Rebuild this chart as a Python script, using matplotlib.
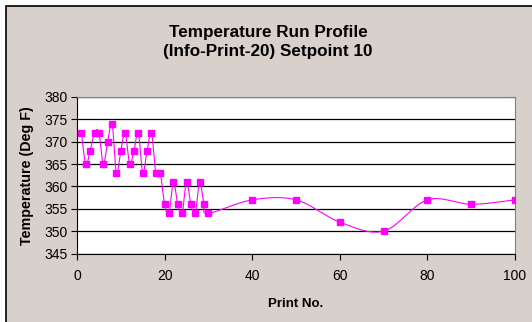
import numpy as np
import matplotlib
matplotlib.use("Agg")
import matplotlib.pyplot as plt

plt.rcParams['font.family'] = ['Liberation Sans', 'DejaVu Sans']

# data
print_no = [1, 2, 3, 4, 5, 6, 7, 8, 9, 10, 11, 12, 13, 14, 15, 16, 17, 18, 19, 20,
            21, 22, 23, 24, 25, 26, 27, 28, 29, 30, 40, 50, 60, 70, 80, 90, 100]
temp = [372, 365, 368, 372, 372, 365, 370, 374, 363, 368, 372, 365, 368, 372, 363, 368, 372, 363, 363, 356,
        354, 361, 356, 354, 361, 356, 354, 361, 356, 354, 357, 357, 352, 350, 357, 356, 357]

title = "Temperature Run Profile\n(Info-Print-20) Setpoint 10"
xlabel = "Print No."
ylabel = "Temperature (Deg F)"
bg = "#d8d0cb"
magenta = "#ff00ff"


def smooth(xs, ys, n=20):
    # Excel-like smoothed line: cubic bezier with catmull-rom control points
    x = np.asarray(xs, float)
    y = np.asarray(ys, float)
    px, py = [], []
    t = np.linspace(0, 1, n)
    for i in range(len(x) - 1):
        i0 = max(i - 1, 0)
        i3 = min(i + 2, len(x) - 1)
        c1x = x[i] + (x[i + 1] - x[i0]) / 6
        c1y = y[i] + (y[i + 1] - y[i0]) / 6
        c2x = x[i + 1] - (x[i3] - x[i]) / 6
        c2y = y[i + 1] - (y[i3] - y[i]) / 6
        a = (1 - t) ** 3
        b = 3 * (1 - t) ** 2 * t
        c = 3 * (1 - t) * t ** 2
        d = t ** 3
        px.extend(a * x[i] + b * c1x + c * c2x + d * x[i + 1])
        py.extend(a * y[i] + b * c1y + c * c2y + d * y[i + 1])
    return px, py


fig = plt.figure(figsize=(5.32, 3.22), dpi=100)
fig.patch.set_facecolor("white")
# chart area with black frame
fig.patches.append(plt.Rectangle((6 / 532, -0.1), 1.2, 1 - 6 / 322 + 0.1,
                                 transform=fig.transFigure, facecolor=bg,
                                 edgecolor="black", linewidth=1.2, zorder=-1))

ax = fig.add_axes([77 / 532, 1 - 253.5 / 322, (515 - 77) / 532, (253.5 - 97) / 322])
ax.set_facecolor("white")

sx, sy = smooth(print_no, temp)
ax.plot(sx, sy, color=magenta, linewidth=0.8, zorder=3)
ax.plot(print_no, temp, linestyle="none", marker="s", markersize=4.5,
        color=magenta, zorder=4)

ax.set_xlim(0, 100)
ax.set_ylim(345, 380)
ax.set_xticks(np.arange(0, 101, 20))
ax.set_yticks(np.arange(345, 381, 5))
ax.yaxis.grid(True, color="black", linewidth=0.9)
ax.set_axisbelow(True)
ax.tick_params(direction="out", length=4, width=0.8, labelsize=10, color="black")
ax.tick_params(axis="x", pad=7)
ax.tick_params(axis="y", pad=3)
for s in ["top", "right"]:
    ax.spines[s].set_color("#808080")
for s in ["left", "bottom"]:
    ax.spines[s].set_color("black")

ax.set_xlabel(xlabel, fontsize=9.5, fontweight="bold", labelpad=11)
ax.set_ylabel(ylabel, fontsize=10.3, fontweight="bold", labelpad=7)
fig.text(268 / 532, 1 - 42 / 322, title, ha="center", va="center",
         fontsize=12.3, fontweight="bold", linespacing=1.3)

fig.savefig("out.png", dpi=100, facecolor=fig.get_facecolor())
